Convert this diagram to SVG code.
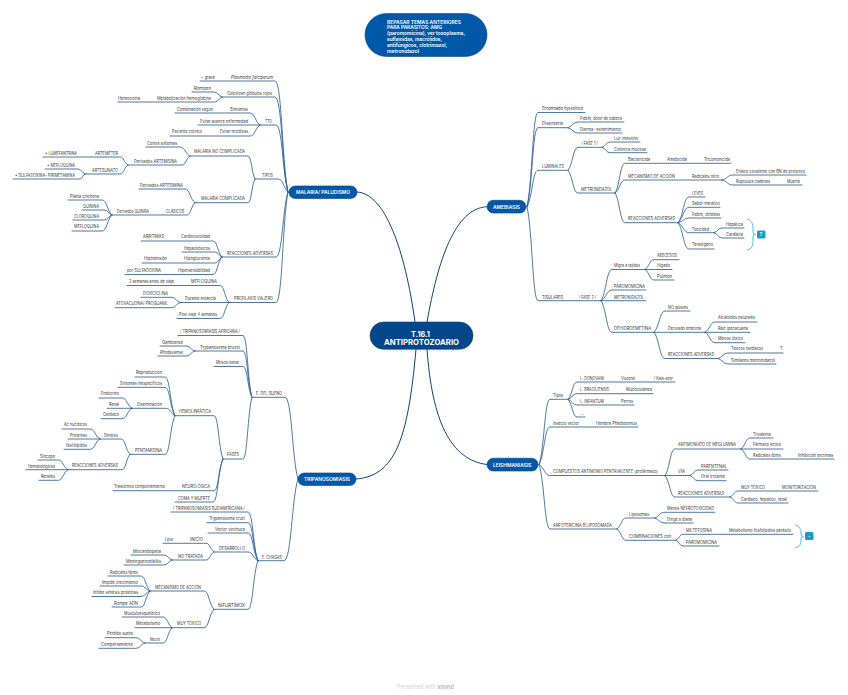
<svg xmlns="http://www.w3.org/2000/svg" width="848" height="695" viewBox="0 0 848 695">
<style>
text{font-family:"Inter","Open Sans","Liberation Sans",sans-serif;font-size:4.7px;fill:#3a3a3a}
.l{lengthAdjust:spacingAndGlyphs}
#edges path{fill:none;stroke:#2f6192;stroke-width:.85;stroke-linecap:round}
#main path{fill:none;stroke:#0f4178;stroke-width:1}
.br{fill:none;stroke:#45b5dc;stroke-width:.9}
.b{fill:#0059a8;stroke:#0f4178;stroke-width:.6}
.w{fill:#fff;font-weight:600;font-size:5px}
.tag{fill:#1a9bc4}
.f{fill:#d4d4d4;font-size:5.5px}
</style>
<g id="edges">
<g id="main">
<path d="M416 349C408 440 395 476 356 479"/>
<path d="M427 349C432 420 450 460 487 464.5"/>
<path d="M415 322C405 250 385 193 357 192"/>
<path d="M427 322C438 260 455 208 487 206.7"/>
</g>
<path d="M288 192c-6 -28 -6 -111 -13 -111H200"/>
<path d="M288 192c-6 -24 -6 -95 -13 -95H222"/>
<path d="M288 192c-5.500 -17 -5.500 -67 -12 -67H260"/>
<path d="M288 192c-4.500 -3 -4.500 -13 -10 -13H255"/>
<path d="M288 192c-5.500 16 -5.500 65 -12 65H222"/>
<path d="M288 192c-5.500 28 -5.500 110.500 -12 110.500H229"/>
<path d="M222 97c-4 -1 -4 -5 -8 -5H192"/>
<path d="M222 97c-3.500 1 -3.500 5 -7 5H118"/>
<path d="M260 125c-5 -3 -5 -12 -10 -12H175"/>
<path d="M260 125H198"/>
<path d="M260 125c-5 3 -5 11 -10 11H170"/>
<path d="M255 179c-3.500 -6 -3.500 -23 -7 -23H190"/>
<path d="M255 179c-3.500 6 -3.500 23.700 -7 23.700H195"/>
<path d="M190 156c-5 -2 -5 -9 -10 -9H146"/>
<path d="M190 156c-4 2 -4 9 -8 9H128"/>
<path d="M128 165c-4 -2 -4 -8 -8 -8H43"/>
<path d="M128 165c-4 2 -4 9 -8 9H85"/>
<path d="M85 174c-3.500 -1 -3.500 -5 -7 -5H45"/>
<path d="M85 174c-2.500 1 -2.500 5 -5 5H13"/>
<path d="M195 202.700c-5 -3 -5 -13.700 -10 -13.700H139"/>
<path d="M195 202.700c-4 3 -4 12.300 -8 12.300H112"/>
<path d="M112 215c-5 -4 -5 -15 -10 -15H68"/>
<path d="M112 215c-4 -1 -4 -5 -8 -5H82"/>
<path d="M112 215c-4 1 -4 5 -8 5H73"/>
<path d="M112 215c-5 4 -5 16 -10 16H72"/>
<path d="M222 257c-4.500 -4 -4.500 -16 -9 -16H141"/>
<path d="M222 257c-3.500 -1 -3.500 -5 -7 -5H182"/>
<path d="M222 257c-3.500 1.500 -3.500 6 -7 6H142"/>
<path d="M222 257c-4.500 4 -4.500 17.500 -9 17.500H125"/>
<path d="M229 302.500c-4.500 -4 -4.500 -17 -9 -17H127"/>
<path d="M229 302.500H180"/>
<path d="M229 302.500c-4.500 4 -4.500 16 -9 16H177"/>
<path d="M180 302.500c-4 -1 -4 -5.200 -8 -5.200H141"/>
<path d="M180 302.500c-4 1 -4 5.200 -8 5.200H115"/>
<path d="M298 479c-6 -20 -6 -81.700 -13 -81.700H253"/>
<path d="M298 479c-6.500 20 -6.500 81.700 -14 81.700H258"/>
<path d="M252 397.300c-4.500 -15 -4.500 -61.800 -9 -61.800H178"/>
<path d="M252 397.300c-4.500 -11.500 -4.500 -46.300 -9 -46.300H195"/>
<path d="M252 397.300c-4.500 -8 -4.500 -30.800 -9 -30.800H214"/>
<path d="M252 397.300c-4.500 15 -4.500 61.700 -9 61.700H223"/>
<path d="M195 351c-4.500 -1 -4.500 -5 -9 -5H160"/>
<path d="M195 351c-4.500 1 -4.500 5 -9 5H158"/>
<path d="M223 459c-4.500 -11 -4.500 -43.300 -9 -43.300H175"/>
<path d="M223 459c-4.500 8 -4.500 31.700 -9 31.700H113"/>
<path d="M223 459c-5 11 -5 43 -10 43H175"/>
<path d="M175 415.700c-5 -10 -5 -38.700 -10 -38.700H135"/>
<path d="M175 415.700c-5 -7 -5 -28.400 -10 -28.400H118"/>
<path d="M175 415.700c-4.500 -2 -4.500 -7.400 -9 -7.400H132"/>
<path d="M175 415.700c-5 10 -5 38.600 -10 38.600H130"/>
<path d="M132 408.300c-5 -2.500 -5 -10.300 -10 -10.300H99"/>
<path d="M132 408.300H107"/>
<path d="M132 408.300c-5 2.500 -5 10.400 -10 10.400H101"/>
<path d="M130 454.300c-4.500 -4 -4.500 -15.300 -9 -15.300H100"/>
<path d="M130 454.300c-4 4 -4 15.400 -8 15.400H68"/>
<path d="M100 439c-5 -2.500 -5 -10 -10 -10H62"/>
<path d="M100 439H68"/>
<path d="M100 439c-5 2.500 -5 10.300 -10 10.300H64"/>
<path d="M68 469.700c-5 -2.500 -5 -9.700 -10 -9.700H38"/>
<path d="M68 469.700H26"/>
<path d="M68 469.700c-5 2.500 -5 10.600 -10 10.600H39"/>
<path d="M258 560.700c-5 -12 -5 -48.700 -10 -48.700H171"/>
<path d="M258 560.700c-5 -10 -5 -38 -10 -38H207"/>
<path d="M258 560.700c-5 -7 -5 -27.700 -10 -27.700H208"/>
<path d="M258 560.700c-5 -2 -5 -8.700 -10 -8.700H214"/>
<path d="M258 560.700c-5 12 -5 48.600 -10 48.600H214"/>
<path d="M214 551.700c-4 -2 -4 -8.400 -8 -8.400H163"/>
<path d="M214 551.700c-4 2 -4 8.300 -8 8.300H172"/>
<path d="M172 560c-4 -1 -4 -5 -8 -5H131"/>
<path d="M172 560c-4 1 -4 5 -8 5H124"/>
<path d="M214 609.300c-5 -4.500 -5 -18.300 -10 -18.300H150"/>
<path d="M214 609.300c-5 4.500 -5 18.400 -10 18.400H172"/>
<path d="M150 591c-4.500 -4 -4.500 -15 -9 -15H108"/>
<path d="M150 591c-4.500 -1 -4.500 -5 -9 -5H100"/>
<path d="M150 591c-4.500 1 -4.500 5.500 -9 5.500H92"/>
<path d="M150 591c-4.500 4 -4.500 16 -9 16H112"/>
<path d="M172 627.700c-4.500 -3 -4.500 -10.700 -9 -10.700H122"/>
<path d="M172 627.700H135"/>
<path d="M172 627.700c-4.500 4 -4.500 15.300 -9 15.300H145"/>
<path d="M145 643c-4.500 -1 -4.500 -5.300 -9 -5.300H105"/>
<path d="M145 643c-4.500 1 -4.500 5.300 -9 5.300H99"/>
<path d="M527 206.700c5.500 -24 5.500 -94.200 11 -94.200H585"/>
<path d="M527 206.700c5.500 -20 5.500 -79 11 -79H568"/>
<path d="M527 206.700c5.500 -9 5.500 -36.400 11 -36.400H568"/>
<path d="M527 206.700c5.500 24 5.500 94 11 94H601"/>
<path d="M568 127.700c5 -1.500 5 -5.700 10 -5.700H624"/>
<path d="M568 127.700c5 1.300 5 5.300 10 5.300H622"/>
<path d="M568 170.300c5 -6 5 -23 10 -23H602"/>
<path d="M568 170.300c5 6 5 22.700 10 22.700H615"/>
<path d="M602 147.300c4 -1 4 -5.300 8 -5.300H640"/>
<path d="M602 147.300c4 1 4 5.400 8 5.400H647"/>
<path d="M615 193c5 -7.500 5 -29.700 10 -29.700H731"/>
<path d="M615 193c5 -3 5 -13 10 -13H722"/>
<path d="M615 193c5 7.500 5 29.700 10 29.700H678"/>
<path d="M722 180c5.500 -1 5.500 -5 11 -5H806"/>
<path d="M722 180c5.500 1 5.500 5 11 5H802"/>
<path d="M678 222.700c5.500 -6 5.500 -25.700 11 -25.700H705"/>
<path d="M678 222.700c5.500 -4 5.500 -15.400 11 -15.400H720"/>
<path d="M678 222.700c5.500 -1 5.500 -4.700 11 -4.700H721"/>
<path d="M678 222.700c5.500 2.500 5.500 10 11 10H714"/>
<path d="M678 222.700c5.500 6.500 5.500 26.300 11 26.300H714"/>
<path d="M714 232.700c4 -1 4 -4.700 8 -4.700H744"/>
<path d="M714 232.700c4 1 4 5.300 8 5.300H744"/>
<path d="M601 300.700c5.500 -8 5.500 -31.200 11 -31.200H645"/>
<path d="M601 300.700c5.500 -2.500 5.500 -10.700 11 -10.700H646"/>
<path d="M601 300.700H646"/>
<path d="M601 300.700c5.500 8 5.500 31.600 11 31.600H654"/>
<path d="M645 269.500c4.500 -2.500 4.500 -9.800 9 -9.800H679"/>
<path d="M645 269.500H672"/>
<path d="M645 269.500c4.500 2.500 4.500 10.500 9 10.500H674"/>
<path d="M654 332.300c5.500 -5 5.500 -21.300 11 -21.300H690"/>
<path d="M654 332.300H705"/>
<path d="M654 332.300c5.500 6.500 5.500 26.200 11 26.200H718"/>
<path d="M705 332.300c5 -2.500 5 -10.300 10 -10.300H757"/>
<path d="M705 332.300H750"/>
<path d="M705 332.300c5 2.500 5 10.400 10 10.400H745"/>
<path d="M718 358.500c5 -1.300 5 -5.500 10 -5.500H783"/>
<path d="M718 358.500c5 1.300 5 5.500 10 5.500H776"/>
<path d="M539 464.500c5.500 -16 5.500 -65.200 11 -65.200H568"/>
<path d="M539 464.500c5.500 -9 5.500 -37.500 11 -37.500H638"/>
<path d="M539 464.500c5.500 3 5.500 11 11 11H665"/>
<path d="M539 464.500c5.500 16 5.500 64.500 11 64.500H617"/>
<path d="M568 399.300c4.500 -4 4.500 -17.300 9 -17.300H675"/>
<path d="M568 399.300c4.500 -1.500 4.500 -5.600 9 -5.600H653"/>
<path d="M568 399.300c4.500 1.500 4.500 5.700 9 5.700H634"/>
<path d="M568 399.300c4.500 4 4.500 17.700 9 17.700H585"/>
<path d="M665 475.500c5 -6.500 5 -26.500 10 -26.500H741"/>
<path d="M665 475.500H690"/>
<path d="M665 475.500c5 5.500 5 21.500 10 21.500H730"/>
<path d="M741 449c4.500 -3 4.500 -11 9 -11H773"/>
<path d="M741 449H783"/>
<path d="M741 449c4.500 2.500 4.500 10 9 10H834"/>
<path d="M690 475.500c4 -1.300 4 -5.500 8 -5.500H728"/>
<path d="M690 475.500c4 1.300 4 5.200 8 5.200H726"/>
<path d="M730 497c4 -1.500 4 -6 8 -6H818"/>
<path d="M730 497c4 1.500 4 6 8 6H788"/>
<path d="M617 529c4.500 -3 4.500 -11 9 -11H655"/>
<path d="M617 529c4.500 3 4.500 11.300 9 11.300H676"/>
<path d="M655 518c4.500 -1.500 4.500 -5.700 9 -5.700H715"/>
<path d="M655 518c4.500 1.300 4.500 5 9 5H693"/>
<path d="M676 540.300c3.500 -1.500 3.500 -6 7 -6H793"/>
<path d="M676 540.300c3.500 1.500 3.500 5.700 7 5.700H719"/>
</g>
<g id="central"><rect x="370" y="322" width="103" height="27.300" rx="13.600" fill="#03478a" stroke="#0f4178" stroke-width=".6"/><text x="411" y="336.500" textLength="19" lengthAdjust="spacingAndGlyphs" style="font-size:7.500px;font-weight:700;fill:#fff">T.16.1</text><text x="384" y="345" textLength="75" lengthAdjust="spacingAndGlyphs" style="font-size:7.500px;font-weight:700;fill:#fff">ANTIPROTOZOARIO</text></g>
<g id="repasar"><rect x="365" y="13.500" width="122" height="43" rx="21.500" class="b"/><text class="w" x="387" y="23.700" textLength="74" lengthAdjust="spacingAndGlyphs">REPASAR TEMAS ANTERIORES</text><text class="w" x="387" y="29.400" textLength="55" lengthAdjust="spacingAndGlyphs">PARA PARÁSITOS: AMG</text><text class="w" x="387" y="35.200" textLength="78" lengthAdjust="spacingAndGlyphs">(paromomicina), ver toxoplasma,</text><text class="w" x="387" y="40.800" textLength="55" lengthAdjust="spacingAndGlyphs">sulfamidas, macrólidos,</text><text class="w" x="387" y="46.700" textLength="60" lengthAdjust="spacingAndGlyphs">antifúngicos, clotrimazol,</text><text class="w" x="387" y="52.500" textLength="32" lengthAdjust="spacingAndGlyphs">metronidazol</text></g>
<g id="malaria"><rect x="289" y="186" width="68" height="12.500" rx="6.200" class="b"/><text class="w" x="296" y="194" textLength="54" lengthAdjust="spacingAndGlyphs">MALARIA/ PALUDISMO</text></g>
<g id="tripanosomiasis"><rect x="298" y="473" width="58" height="12.500" rx="6.200" class="b"/><text class="w" x="304" y="481" textLength="46" lengthAdjust="spacingAndGlyphs">TRIPANOSOMIASIS</text></g>
<g id="amebiasis"><rect x="487" y="200.300" width="39" height="12.800" rx="6.400" class="b"/><text class="w" x="493" y="208.800" textLength="27" lengthAdjust="spacingAndGlyphs">AMEBIASIS</text></g>
<g id="leishmaniasis"><rect x="487" y="458.200" width="51" height="12.800" rx="6.400" class="b"/><text class="w" x="493" y="466.700" textLength="38.500" lengthAdjust="spacingAndGlyphs">LEISHMANIASIS</text></g>
<g id="m1"><text x="201" y="78.700" textLength="14" lengthAdjust="spacingAndGlyphs">+ grave</text></g>
<g id="m2"><text x="231" y="78.700" textLength="42" lengthAdjust="spacingAndGlyphs" font-style="italic">Plasmodio falciparum</text></g>
<g id="m3"><text x="227" y="95.400" textLength="45" lengthAdjust="spacingAndGlyphs">Colonizan glóbulos rojos</text></g>
<g id="m4"><text x="194" y="89.700" textLength="17" lengthAdjust="spacingAndGlyphs">Rompen</text></g>
<g id="m5"><text x="157" y="100.200" textLength="54" lengthAdjust="spacingAndGlyphs">Metabolización hemoglobina</text></g>
<g id="m6"><text x="118" y="100.200" textLength="22" lengthAdjust="spacingAndGlyphs">Hemozoína</text></g>
<g id="m7"><text x="265" y="122.700" textLength="7" lengthAdjust="spacingAndGlyphs">TTO</text></g>
<g id="m8"><text x="230" y="111.400" textLength="18" lengthAdjust="spacingAndGlyphs">Síntomas</text></g>
<g id="m9"><text x="177" y="111.400" textLength="36" lengthAdjust="spacingAndGlyphs">Combinación según</text></g>
<g id="m10"><text x="200" y="122.700" textLength="48" lengthAdjust="spacingAndGlyphs">Evitar avance enfermedad</text></g>
<g id="m11"><text x="220" y="133.300" textLength="28" lengthAdjust="spacingAndGlyphs">Evitar recidivas</text></g>
<g id="m12"><text x="172" y="133.300" textLength="30" lengthAdjust="spacingAndGlyphs">Paciente crónico</text></g>
<g id="m13"><text x="262" y="176.700" textLength="11" lengthAdjust="spacingAndGlyphs">TIPOS</text></g>
<g id="m14"><text x="194" y="153.400" textLength="51" lengthAdjust="spacingAndGlyphs">MALARIA NO COMPLICADA</text></g>
<g id="m15"><text x="147" y="144.700" textLength="30" lengthAdjust="spacingAndGlyphs">Contra síntomas</text></g>
<g id="m16"><text x="134" y="163.300" textLength="43" lengthAdjust="spacingAndGlyphs">Derivados ARTEMISINA</text></g>
<g id="m17"><text x="95" y="154.700" textLength="23" lengthAdjust="spacingAndGlyphs">ARTEMÉTER</text></g>
<g id="m18"><text x="45" y="154.700" textLength="32" lengthAdjust="spacingAndGlyphs">+ LUMEFANTRINA</text></g>
<g id="m19"><text x="92" y="171.700" textLength="26" lengthAdjust="spacingAndGlyphs">ARTESUNATO</text></g>
<g id="m20"><text x="47" y="166.700" textLength="28" lengthAdjust="spacingAndGlyphs">+ MEFLOQUINA</text></g>
<g id="m21"><text x="15" y="176.700" textLength="60" lengthAdjust="spacingAndGlyphs">+ SULFADOXINA- PIRIMETAMINA</text></g>
<g id="m22"><text x="201" y="200" textLength="44" lengthAdjust="spacingAndGlyphs">MALARIA COMPLICADA</text></g>
<g id="m23"><text x="140" y="186.700" textLength="43" lengthAdjust="spacingAndGlyphs">Derivados ARTESIMINA</text></g>
<g id="m24"><text x="166" y="213.300" textLength="18" lengthAdjust="spacingAndGlyphs">CLÁSICOS</text></g>
<g id="m25"><text x="117" y="213.300" textLength="32" lengthAdjust="spacingAndGlyphs">Derivados QUININA</text></g>
<g id="m26"><text x="70" y="197.700" textLength="29" lengthAdjust="spacingAndGlyphs">Planta cinchona</text></g>
<g id="m27"><text x="83" y="208" textLength="16" lengthAdjust="spacingAndGlyphs">QUININA</text></g>
<g id="m28"><text x="74" y="218" textLength="25" lengthAdjust="spacingAndGlyphs">CLOROQUINA</text></g>
<g id="m29"><text x="74" y="228.300" textLength="25" lengthAdjust="spacingAndGlyphs">MEFLOQUINA</text></g>
<g id="m30"><text x="227" y="255.400" textLength="46" lengthAdjust="spacingAndGlyphs">REACCIONES ADVERSAS</text></g>
<g id="m31"><text x="181" y="238.400" textLength="29" lengthAdjust="spacingAndGlyphs">Cardiotoxicidad</text></g>
<g id="m32"><text x="143" y="238.400" textLength="21" lengthAdjust="spacingAndGlyphs">ARRITMIAS</text></g>
<g id="m33"><text x="184" y="250" textLength="26" lengthAdjust="spacingAndGlyphs">Hepatotóxicos</text></g>
<g id="m34"><text x="184" y="260.400" textLength="26" lengthAdjust="spacingAndGlyphs">Hipoglucemia</text></g>
<g id="m35"><text x="144" y="260.400" textLength="23" lengthAdjust="spacingAndGlyphs">Hipotensión</text></g>
<g id="m36"><text x="178" y="272.400" textLength="32" lengthAdjust="spacingAndGlyphs">Hipersensibilidad</text></g>
<g id="m37"><text x="127" y="272.400" textLength="34" lengthAdjust="spacingAndGlyphs">por SULFADOXINA</text></g>
<g id="m38"><text x="234" y="300.400" textLength="39" lengthAdjust="spacingAndGlyphs">PROFILAXIS VIAJERO</text></g>
<g id="m39"><text x="191" y="283.400" textLength="26" lengthAdjust="spacingAndGlyphs">MEFLOQUINA</text></g>
<g id="m40"><text x="129" y="283.400" textLength="45" lengthAdjust="spacingAndGlyphs">2 semanas antes de viaje</text></g>
<g id="m41"><text x="185" y="300.400" textLength="31" lengthAdjust="spacingAndGlyphs">Durante estancia</text></g>
<g id="m42"><text x="143" y="294.700" textLength="25" lengthAdjust="spacingAndGlyphs">DOXICICLINA</text></g>
<g id="m43"><text x="116" y="305.400" textLength="52" lengthAdjust="spacingAndGlyphs">ATOVACUONA/ PROGUANIL</text></g>
<g id="m44"><text x="179" y="315.700" textLength="38" lengthAdjust="spacingAndGlyphs">Post viaje 4 semanas</text></g>
<g id="t1"><text x="256" y="394.700" textLength="26" lengthAdjust="spacingAndGlyphs">E. DEL SUEÑO</text></g>
<g id="t2"><text x="180" y="333" textLength="60" lengthAdjust="spacingAndGlyphs">/ TRIPANOSOMIASIS AFRICANA /</text></g>
<g id="t3"><text x="200" y="348.700" textLength="40" lengthAdjust="spacingAndGlyphs">Trypanosoma brucei</text></g>
<g id="t4"><text x="162" y="343.700" textLength="21" lengthAdjust="spacingAndGlyphs">Gambiense</text></g>
<g id="t5"><text x="160" y="354" textLength="23" lengthAdjust="spacingAndGlyphs" font-style="italic">Rhodesiense</text></g>
<g id="t6"><text x="216" y="364.400" textLength="23" lengthAdjust="spacingAndGlyphs">Mosca tsetse</text></g>
<g id="t7"><text x="227" y="456.400" textLength="12" lengthAdjust="spacingAndGlyphs">FASES</text></g>
<g id="t8"><text x="179" y="413.400" textLength="32" lengthAdjust="spacingAndGlyphs">HEMOLINFÁTICA</text></g>
<g id="t9"><text x="136" y="374.400" textLength="26" lengthAdjust="spacingAndGlyphs">Reproducción</text></g>
<g id="t10"><text x="120" y="384.700" textLength="42" lengthAdjust="spacingAndGlyphs">Síntomas inespecíficos</text></g>
<g id="t11"><text x="137" y="406" textLength="25" lengthAdjust="spacingAndGlyphs">Diseminación</text></g>
<g id="t12"><text x="101" y="395.400" textLength="18" lengthAdjust="spacingAndGlyphs">Endocrino</text></g>
<g id="t13"><text x="109" y="405.700" textLength="10" lengthAdjust="spacingAndGlyphs">Renal</text></g>
<g id="t14"><text x="103" y="416" textLength="16" lengthAdjust="spacingAndGlyphs">Cardiaco</text></g>
<g id="t15"><text x="135" y="451.700" textLength="27" lengthAdjust="spacingAndGlyphs">PENTAMIDINA</text></g>
<g id="t16"><text x="104" y="436.700" textLength="14" lengthAdjust="spacingAndGlyphs">Síntesis</text></g>
<g id="t17"><text x="64" y="426.400" textLength="23" lengthAdjust="spacingAndGlyphs">Ac nucleicos</text></g>
<g id="t18"><text x="70" y="436.700" textLength="17" lengthAdjust="spacingAndGlyphs">Proteínas</text></g>
<g id="t19"><text x="66" y="447" textLength="21" lengthAdjust="spacingAndGlyphs">fosfolípidos</text></g>
<g id="t20"><text x="72" y="467.400" textLength="46" lengthAdjust="spacingAndGlyphs">REACCIONES ADVERSAS</text></g>
<g id="t21"><text x="40" y="457.700" textLength="15" lengthAdjust="spacingAndGlyphs">Síncope</text></g>
<g id="t22"><text x="28" y="467.700" textLength="27" lengthAdjust="spacingAndGlyphs">Hematológicas</text></g>
<g id="t23"><text x="41" y="478" textLength="14" lengthAdjust="spacingAndGlyphs">Renales</text></g>
<g id="t24"><text x="182" y="488.400" textLength="28" lengthAdjust="spacingAndGlyphs">NEUROLÓGICA</text></g>
<g id="t25"><text x="114" y="488.400" textLength="51" lengthAdjust="spacingAndGlyphs">Trastornos comportamiento</text></g>
<g id="t26"><text x="178" y="499.700" textLength="32" lengthAdjust="spacingAndGlyphs">COMA Y MUERTE</text></g>
<g id="t27"><text x="262" y="558.700" textLength="20" lengthAdjust="spacingAndGlyphs">E. CHAGAS</text></g>
<g id="t28"><text x="173" y="509.700" textLength="72" lengthAdjust="spacingAndGlyphs">/ TRIPANOSOMIASIS SUDAMERICANA /</text></g>
<g id="t29"><text x="209" y="520.400" textLength="36" lengthAdjust="spacingAndGlyphs">Trypanosoma cruzi</text></g>
<g id="t30"><text x="215" y="530.700" textLength="30" lengthAdjust="spacingAndGlyphs">Vector vinchuca</text></g>
<g id="t31"><text x="219" y="549.700" textLength="26" lengthAdjust="spacingAndGlyphs">DESARROLLO</text></g>
<g id="t32"><text x="190" y="541" textLength="13" lengthAdjust="spacingAndGlyphs">INICIO</text></g>
<g id="t33"><text x="165" y="541" textLength="8" lengthAdjust="spacingAndGlyphs">Leve</text></g>
<g id="t34"><text x="178" y="557.700" textLength="25" lengthAdjust="spacingAndGlyphs">NO TRATADA</text></g>
<g id="t35"><text x="133" y="552.700" textLength="28" lengthAdjust="spacingAndGlyphs">Miocardiopatía</text></g>
<g id="t36"><text x="126" y="563" textLength="35" lengthAdjust="spacingAndGlyphs">Meningoencefalitis</text></g>
<g id="t37"><text x="218" y="606.700" textLength="27" lengthAdjust="spacingAndGlyphs">NIFURTIMOX</text></g>
<g id="t38"><text x="155" y="588.700" textLength="46" lengthAdjust="spacingAndGlyphs">MECANISMO DE ACCIÓN</text></g>
<g id="t39"><text x="110" y="573.700" textLength="28" lengthAdjust="spacingAndGlyphs">Radicales libres</text></g>
<g id="t40"><text x="102" y="583.700" textLength="36" lengthAdjust="spacingAndGlyphs">Impide crecimiento</text></g>
<g id="t41"><text x="93" y="594.200" textLength="45" lengthAdjust="spacingAndGlyphs">Inhibe síntesis proteínas</text></g>
<g id="t42"><text x="114" y="604.700" textLength="24" lengthAdjust="spacingAndGlyphs">Rompe ADN</text></g>
<g id="t43"><text x="177" y="624.700" textLength="24" lengthAdjust="spacingAndGlyphs">MUY TÓXICO</text></g>
<g id="t44"><text x="124" y="614.700" textLength="36" lengthAdjust="spacingAndGlyphs">Musculoesquelético</text></g>
<g id="t45"><text x="136" y="625" textLength="24" lengthAdjust="spacingAndGlyphs">Metabolismo</text></g>
<g id="t46"><text x="150" y="640.700" textLength="10" lengthAdjust="spacingAndGlyphs">Neuro</text></g>
<g id="t47"><text x="107" y="635.400" textLength="26" lengthAdjust="spacingAndGlyphs">Pérdida sueño</text></g>
<g id="t48"><text x="101" y="646" textLength="32" lengthAdjust="spacingAndGlyphs">Comportamiento</text></g>
<g id="a1"><text x="542" y="110.400" textLength="41" lengthAdjust="spacingAndGlyphs" font-style="italic">Entamoeba hystolitica</text></g>
<g id="a2"><text x="542" y="125" textLength="21" lengthAdjust="spacingAndGlyphs">Disentería</text></g>
<g id="a3"><text x="580" y="119.700" textLength="42" lengthAdjust="spacingAndGlyphs">Fiebre, dolor de cabeza</text></g>
<g id="a4"><text x="580" y="130.700" textLength="41" lengthAdjust="spacingAndGlyphs">Diarrea- estreñimiento</text></g>
<g id="a5"><text x="542" y="167.700" textLength="22" lengthAdjust="spacingAndGlyphs">LUMINALES</text></g>
<g id="a6"><text x="581" y="145.400" textLength="17" lengthAdjust="spacingAndGlyphs">/ FASE 1 /</text></g>
<g id="a7"><text x="614" y="139.700" textLength="24" lengthAdjust="spacingAndGlyphs">Luz intestino</text></g>
<g id="a8"><text x="614" y="150.700" textLength="32" lengthAdjust="spacingAndGlyphs">Coloniza mucosa</text></g>
<g id="a9"><text x="581" y="190.700" textLength="31" lengthAdjust="spacingAndGlyphs">METRONIDAZOL</text></g>
<g id="a10"><text x="628" y="160.700" textLength="22" lengthAdjust="spacingAndGlyphs">Bactericida</text></g>
<g id="a11"><text x="667" y="160.700" textLength="20" lengthAdjust="spacingAndGlyphs">Amebicida</text></g>
<g id="a12"><text x="704" y="160.700" textLength="26" lengthAdjust="spacingAndGlyphs">Tricomonicida</text></g>
<g id="a13"><text x="628" y="177.700" textLength="47" lengthAdjust="spacingAndGlyphs">MECANISMO DE ACCIÓN</text></g>
<g id="a14"><text x="692" y="177.700" textLength="27" lengthAdjust="spacingAndGlyphs">Radicales nitro</text></g>
<g id="a15"><text x="736" y="172.700" textLength="69" lengthAdjust="spacingAndGlyphs">Enlace covalente con BN de protozoo</text></g>
<g id="a16"><text x="736" y="182.700" textLength="34" lengthAdjust="spacingAndGlyphs">Ruptutura cadenas</text></g>
<g id="a17"><text x="787" y="182.700" textLength="13" lengthAdjust="spacingAndGlyphs">Muerte</text></g>
<g id="a18"><text x="628" y="220.400" textLength="47" lengthAdjust="spacingAndGlyphs">REACCIONES ADVERSAS</text></g>
<g id="a19"><text x="692" y="194.700" textLength="11" lengthAdjust="spacingAndGlyphs">LEVES</text></g>
<g id="a20"><text x="692" y="204.700" textLength="28" lengthAdjust="spacingAndGlyphs">Sabor metálico</text></g>
<g id="a21"><text x="692" y="215.700" textLength="28" lengthAdjust="spacingAndGlyphs">Fiebre, cefaleas</text></g>
<g id="a22"><text x="692" y="230.700" textLength="17" lengthAdjust="spacingAndGlyphs">Toxicidad</text></g>
<g id="a23"><text x="726" y="225.700" textLength="17" lengthAdjust="spacingAndGlyphs">Hepática</text></g>
<g id="a24"><text x="726" y="235.700" textLength="17" lengthAdjust="spacingAndGlyphs">Cardíaca</text></g>
<g id="a25"><text x="692" y="246.200" textLength="21" lengthAdjust="spacingAndGlyphs">Teratógeno</text></g>
<g id="a26"><path class="br" d="M747 219C752 220 753 224 753 230V232Q753 234.500 755.500 234.500Q753 234.500 753 237V240C753 246 752 249 747 250"/><rect x="757" y="230.500" width="8.500" height="8" rx="1.500" class="tag"/><text x="759.500" y="236" style="fill:#fff;font-size:5px;font-weight:600">?</text></g>
<g id="a27"><text x="542" y="298.700" textLength="21" lengthAdjust="spacingAndGlyphs">TISULARES</text></g>
<g id="a28"><text x="579" y="298.700" textLength="17" lengthAdjust="spacingAndGlyphs">/ FASE 2 /</text></g>
<g id="a29"><text x="614" y="267.400" textLength="26" lengthAdjust="spacingAndGlyphs">Migra a tejidos</text></g>
<g id="a30"><text x="657" y="257.400" textLength="20" lengthAdjust="spacingAndGlyphs">ABSCESOS</text></g>
<g id="a31"><text x="657" y="267.400" textLength="13" lengthAdjust="spacingAndGlyphs">Hígado</text></g>
<g id="a32"><text x="657" y="278" textLength="15" lengthAdjust="spacingAndGlyphs">Pulmón</text></g>
<g id="a33"><text x="614" y="288.400" textLength="31" lengthAdjust="spacingAndGlyphs">PAROMOMICINA</text></g>
<g id="a34"><text x="614" y="298.700" textLength="30" lengthAdjust="spacingAndGlyphs">METRONIDAZOL</text></g>
<g id="a35"><text x="614" y="329.700" textLength="37" lengthAdjust="spacingAndGlyphs">DEHIDROEMETINA</text></g>
<g id="a36"><text x="668" y="308.700" textLength="20" lengthAdjust="spacingAndGlyphs">NO quistes</text></g>
<g id="a37"><text x="668" y="329.700" textLength="33" lengthAdjust="spacingAndGlyphs">Derivado emetina</text></g>
<g id="a38"><text x="718" y="319.400" textLength="37" lengthAdjust="spacingAndGlyphs">Alcaloides naturales</text></g>
<g id="a39"><text x="718" y="329.700" textLength="30" lengthAdjust="spacingAndGlyphs">Raíz ipecacuana</text></g>
<g id="a40"><text x="718" y="340" textLength="25" lengthAdjust="spacingAndGlyphs">Menos tóxico</text></g>
<g id="a41"><text x="668" y="356.400" textLength="46" lengthAdjust="spacingAndGlyphs">REACCIONES ADVERSAS</text></g>
<g id="a42"><text x="731" y="350.400" textLength="32" lengthAdjust="spacingAndGlyphs">Tóxicos cardíacos</text></g>
<g id="a43"><text x="780" y="350.400">?</text></g>
<g id="a44"><text x="731" y="361.700" textLength="44" lengthAdjust="spacingAndGlyphs">Similares metronidazol</text></g>
<g id="l1"><text x="553" y="396.700" textLength="10" lengthAdjust="spacingAndGlyphs">Tipos</text></g>
<g id="l2"><text x="580" y="379.700" textLength="24" lengthAdjust="spacingAndGlyphs">L. DONOVANI</text></g>
<g id="l3"><text x="621" y="379.700" textLength="14" lengthAdjust="spacingAndGlyphs">Visceral</text></g>
<g id="l4"><text x="654" y="379.700" textLength="19" lengthAdjust="spacingAndGlyphs">/ Kala-azar</text></g>
<g id="l5"><text x="580" y="391.400" textLength="29" lengthAdjust="spacingAndGlyphs">L. BRAZILIENSIS</text></g>
<g id="l6"><text x="626" y="391.400" textLength="26" lengthAdjust="spacingAndGlyphs">Mucocutánea</text></g>
<g id="l7"><text x="580" y="402.700" textLength="24" lengthAdjust="spacingAndGlyphs">L. INFANTUM</text></g>
<g id="l8"><text x="621" y="402.700" textLength="12" lengthAdjust="spacingAndGlyphs">Perros</text></g>
<g id="l9"><text x="580" y="415">...</text></g>
<g id="l10"><text x="553" y="424.700" textLength="26" lengthAdjust="spacingAndGlyphs">Insecto vector</text></g>
<g id="l11"><text x="596" y="424.700" textLength="41" lengthAdjust="spacingAndGlyphs">Hembra Phlebotomus</text></g>
<g id="l12"><text x="553" y="472.700" textLength="105" lengthAdjust="spacingAndGlyphs">COMPUESTOS ANTIMONIO PENTAVALENTE (profármaco)</text></g>
<g id="l13"><text x="678" y="446.400" textLength="58" lengthAdjust="spacingAndGlyphs">ANTIMONIATO DE MEGLUMINA</text></g>
<g id="l14"><text x="753" y="435.700" textLength="18" lengthAdjust="spacingAndGlyphs">Trivalente</text></g>
<g id="l15"><text x="753" y="446.400" textLength="28" lengthAdjust="spacingAndGlyphs">Fármaco activo</text></g>
<g id="l16"><text x="753" y="456.700" textLength="28" lengthAdjust="spacingAndGlyphs">Radicales libres</text></g>
<g id="l17"><text x="798" y="456.700" textLength="35" lengthAdjust="spacingAndGlyphs">Inhibición enzimas</text></g>
<g id="l18"><text x="678" y="472.700" textLength="7" lengthAdjust="spacingAndGlyphs">VÍA</text></g>
<g id="l19"><text x="701" y="467.700" textLength="26" lengthAdjust="spacingAndGlyphs">PARENTENAL</text></g>
<g id="l20"><text x="701" y="478.400" textLength="24" lengthAdjust="spacingAndGlyphs">Oral irritante</text></g>
<g id="l21"><text x="678" y="494.700" textLength="46" lengthAdjust="spacingAndGlyphs">REACCIONES ADVERSAS</text></g>
<g id="l22"><text x="741" y="488.700" textLength="24" lengthAdjust="spacingAndGlyphs">MUY TÓXICO</text></g>
<g id="l23"><text x="782" y="488.700" textLength="34" lengthAdjust="spacingAndGlyphs">MONITORIZACIÓN</text></g>
<g id="l24"><text x="741" y="500.700" textLength="46" lengthAdjust="spacingAndGlyphs">Cardíaco, hepático, renal</text></g>
<g id="l25"><text x="553" y="526.700" textLength="59" lengthAdjust="spacingAndGlyphs">ANFOTERICINA B LIPOSOMADA</text></g>
<g id="l26"><text x="629" y="515.700" textLength="20" lengthAdjust="spacingAndGlyphs">Liposomas</text></g>
<g id="l27"><text x="667" y="510" textLength="47" lengthAdjust="spacingAndGlyphs">Menos NEFROTOXICIDAD</text></g>
<g id="l28"><text x="667" y="520.700" textLength="25" lengthAdjust="spacingAndGlyphs">Dirige a diana</text></g>
<g id="l29"><text x="629" y="537.700" textLength="42" lengthAdjust="spacingAndGlyphs">COMBINACIONES con</text></g>
<g id="l30"><text x="686" y="532" textLength="26" lengthAdjust="spacingAndGlyphs">MILTEFOSINA</text></g>
<g id="l31"><text x="729" y="532" textLength="62" lengthAdjust="spacingAndGlyphs">Metabolismo fosfolípidos parásito</text></g>
<g id="l32"><text x="686" y="543.700" textLength="31" lengthAdjust="spacingAndGlyphs">PAROMOMICINA</text></g>
<g id="l33"><path class="br" d="M795 525C800 526 801 530 801 533V534Q801 536.500 803.500 536.500Q801 536.500 801 539V540C801 544 800 547 795 548"/><rect x="805" y="532" width="8.500" height="8" rx="1.500" class="tag"/><text x="808" y="537.500" style="fill:#fff;font-size:5px;font-weight:600">-</text></g>
<text class="f" x="397" y="689">Presented with <tspan font-weight="700" fill="#bdbdbd">xmind</tspan></text>
</svg>
